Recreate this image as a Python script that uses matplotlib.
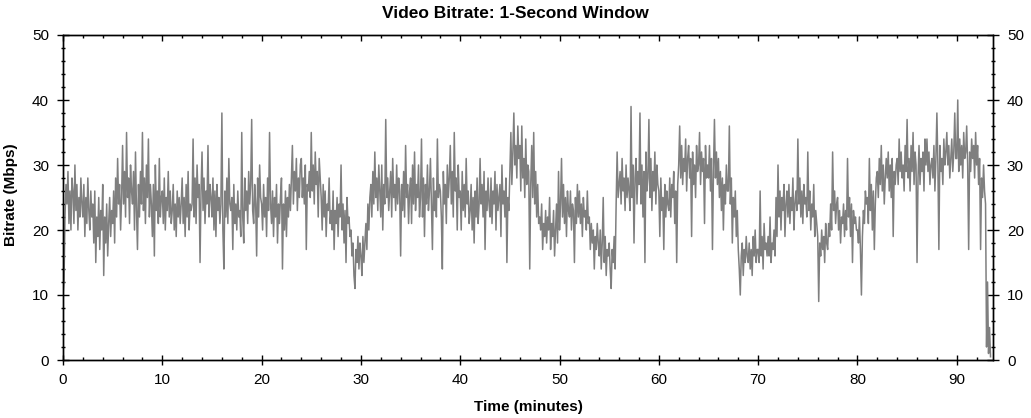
import numpy as np
import matplotlib
matplotlib.use('Agg')
import matplotlib.pyplot as plt
from matplotlib.ticker import MultipleLocator

plt.rcParams['font.family'] = ['Liberation Sans', 'DejaVu Sans']

title_text = "Video Bitrate: 1-Second Window"
x_label = "Time (minutes)"
y_label = "Bitrate (Mbps)"

sample_step_min = 0.1   # spacing between samples (minutes)

# bitrate (Mbps), 10 samples per minute
bitrate_mbps = [
    10, 12, 22, 27, 24, 29, 21, 26, 20, 28,   # 0
    26, 21, 30, 23, 27, 20, 25, 22, 28, 24,   # 1
    22, 27, 19, 25, 21, 28, 23, 20, 26, 22,   # 2
    24, 18, 26, 15, 22, 19, 25, 17, 23, 20,   # 3
    27, 13, 22, 18, 24, 16, 21, 25, 19, 23,   # 4
    21, 26, 18, 28, 22, 31, 24, 27, 20, 25,   # 5
    33, 24, 29, 22, 35, 25, 28, 21, 30, 26,   # 6
    24, 29, 20, 32, 23, 17, 27, 22, 29, 24,   # 7
    35, 23, 28, 21, 30, 25, 34, 22, 27, 24,   # 8
    19, 27, 16, 30, 23, 26, 21, 31, 22, 25,   # 9
    26, 21, 28, 20, 25, 23, 29, 22, 26, 21,   # 10
    23, 27, 20, 24, 19, 26, 22, 25, 21, 24,   # 11
    28, 21, 25, 19, 27, 22, 29, 20, 24, 23,   # 12
    24, 34, 22, 28, 21, 30, 25, 27, 15, 26,   # 13
    32, 23, 28, 21, 26, 24, 33, 22, 27, 25,   # 14
    22, 28, 20, 26, 19, 27, 23, 25, 21, 24,   # 15
    38, 20, 14, 26, 22, 28, 21, 31, 24, 23,   # 16
    25, 17, 27, 21, 24, 20, 26, 22, 23, 19,   # 17
    35, 22, 18, 28, 23, 26, 21, 29, 24, 27,   # 18
    37, 23, 21, 27, 24, 16, 28, 22, 30, 25,   # 19
    24, 20, 27, 22, 25, 19, 28, 23, 35, 24,   # 20
    21, 26, 19, 25, 22, 27, 18, 24, 21, 25,   # 21
    28, 14, 24, 20, 26, 19, 25, 22, 27, 23,   # 22
    28, 33, 24, 29, 26, 31, 23, 28, 25, 30,   # 23
    31, 25, 28, 24, 30, 17, 27, 26, 29, 25,   # 24
    35, 26, 30, 24, 32, 27, 29, 22, 31, 28,   # 25
    25, 20, 27, 22, 26, 19, 24, 23, 28, 21,   # 26
    23, 20, 26, 17, 23, 21, 25, 19, 24, 22,   # 27
    30, 20, 24, 18, 23, 15, 25, 21, 22, 19,   # 28
    20, 16, 18, 13, 11, 17, 15, 19, 14, 18,   # 29
    16, 13, 19, 15, 18, 21, 17, 24, 20, 25,   # 30
    27, 22, 29, 24, 32, 25, 28, 23, 30, 26,   # 31
    22, 30, 20, 27, 24, 37, 25, 28, 23, 26,   # 32
    29, 22, 31, 25, 27, 23, 30, 24, 28, 26,   # 33
    16, 27, 23, 29, 22, 33, 25, 27, 21, 26,   # 34
    28, 21, 30, 24, 32, 23, 27, 25, 30, 22,   # 35
    25, 34, 22, 28, 19, 27, 24, 30, 23, 26,   # 36
    31, 24, 17, 28, 23, 26, 22, 34, 25, 27,   # 37
    26, 22, 14, 29, 24, 27, 21, 30, 25, 28,   # 38
    33, 24, 29, 22, 35, 26, 28, 20, 30, 25,   # 39
    26, 20, 29, 23, 27, 22, 31, 24, 26, 21,   # 40
    23, 27, 20, 25, 18, 26, 22, 28, 21, 24,   # 41
    31, 24, 27, 22, 29, 17, 26, 23, 28, 24,   # 42
    22, 28, 21, 26, 24, 29, 20, 27, 23, 25,   # 43
    27, 19, 30, 24, 26, 22, 28, 15, 25, 23,   # 44
    29, 35, 27, 32, 38, 30, 33, 28, 36, 31,   # 45
    33, 26, 36, 28, 31, 25, 34, 27, 30, 29,   # 46
    14, 27, 33, 25, 35, 24, 29, 22, 27, 21,   # 47
    22, 20, 24, 17, 21, 19, 23, 18, 22, 20,   # 48
    25, 17, 21, 19, 23, 16, 20, 24, 18, 29,   # 49
    20, 24, 31, 22, 27, 21, 25, 19, 26, 23,   # 50
    22, 26, 20, 24, 23, 15, 25, 21, 27, 22,   # 51
    26, 21, 24, 19, 25, 22, 23, 20, 26, 21,   # 52
    22, 17, 21, 18, 20, 14, 19, 17, 21, 18,   # 53
    16, 20, 14, 18, 25, 15, 19, 13, 17, 16,   # 54
    18, 14, 11, 17, 15, 19, 14, 24, 32, 25,   # 55
    27, 29, 24, 31, 26, 28, 23, 30, 25, 28,   # 56
    26, 23, 39, 25, 30, 18, 28, 31, 24, 29,   # 57
    27, 38, 24, 30, 22, 29, 15, 32, 26, 28,   # 58
    37, 25, 31, 23, 29, 26, 32, 24, 30, 27,   # 59
    26, 19, 28, 23, 25, 17, 27, 22, 26, 24,   # 60
    23, 28, 22, 27, 25, 29, 21, 26, 15, 27,   # 61
    30, 36, 28, 33, 27, 31, 29, 34, 26, 31,   # 62
    33, 28, 31, 19, 32, 27, 30, 25, 33, 29,   # 63
    30, 35, 27, 32, 29, 31, 21, 33, 28, 30,   # 64
    28, 33, 26, 31, 17, 29, 37, 28, 32, 27,   # 65
    31, 25, 29, 23, 28, 20, 27, 24, 30, 26,   # 66
    26, 36, 24, 28, 18, 25, 22, 26, 19, 23,   # 67
    17, 14, 10, 16, 18, 13, 17, 15, 19, 16,   # 68
    15, 18, 14, 17, 13, 19, 16, 20, 15, 17,   # 69
    17, 15, 26, 16, 19, 14, 21, 17, 18, 16,   # 70
    19, 16, 22, 15, 18, 17, 20, 16, 25, 19,   # 71
    30, 22, 26, 20, 25, 23, 27, 19, 24, 26,   # 72
    22, 27, 21, 25, 23, 28, 20, 24, 26, 23,   # 73
    34, 24, 28, 22, 26, 21, 27, 24, 25, 22,   # 74
    32, 23, 26, 20, 24, 22, 27, 19, 23, 21,   # 75
    19, 9, 18, 16, 20, 17, 19, 15, 21, 18,    # 76
    17, 21, 19, 24, 20, 32, 23, 26, 21, 24,   # 77
    25, 20, 23, 18, 22, 21, 24, 19, 23, 20,   # 78
    31, 22, 25, 19, 24, 15, 23, 21, 22, 20,   # 79
    20, 18, 22, 17, 10, 19, 23, 21, 26, 24,   # 80
    25, 21, 31, 23, 27, 20, 26, 17, 24, 28,   # 81
    29, 25, 31, 27, 33, 26, 30, 24, 28, 31,   # 82
    28, 32, 26, 30, 25, 31, 19, 29, 27, 30,   # 83
    31, 27, 34, 29, 32, 28, 30, 26, 33, 29,   # 84
    37, 28, 31, 26, 33, 29, 35, 27, 32, 30,   # 85
    15, 28, 33, 27, 31, 29, 32, 26, 34, 30,   # 86
    34, 29, 32, 27, 30, 31, 28, 33, 26, 31,   # 87
    38, 30, 17, 33, 29, 31, 27, 34, 30, 32,   # 88
    35, 30, 33, 28, 31, 34, 29, 32, 38, 31,   # 89
    31, 40, 29, 34, 30, 33, 28, 35, 31, 32,   # 90
    36, 30, 17, 32, 29, 34, 31, 33, 28, 35,   # 91
    30, 33, 27, 31, 17, 28, 25, 30, 26, 24,   # 92
    2, 12, 1, 5, 0.5,                          # 93
]

x_major_ticks = [0, 10, 20, 30, 40, 50, 60, 70, 80, 90]
y_major_ticks = [0, 10, 20, 30, 40, 50]

time_min = np.arange(len(bitrate_mbps)) * sample_step_min

W, H = 1031, 418
fig = plt.figure(figsize=(W / 100, H / 100), dpi=100)
ax = fig.add_axes([63 / W, 1 - 360 / H, (993 - 63) / W, (360 - 35) / H])

ax.plot(time_min, bitrate_mbps, color='#7f7f7f', lw=1.1, antialiased=True)

ax.set_xlim(0, 93.65)
ax.set_ylim(0, 50)
ax.set_xticks(x_major_ticks)
ax.set_yticks(y_major_ticks)
ax.xaxis.set_minor_locator(MultipleLocator(2))
ax.yaxis.set_minor_locator(MultipleLocator(2))

for s in ax.spines.values():
    s.set_linewidth(1.0)
    s.set_color('black')

ax.tick_params(axis='y', which='major', direction='inout', length=8, width=1,
               left=True, right=True, labelleft=True, labelright=True,
               labelsize=11, pad=6)
ax.tick_params(axis='y', which='minor', direction='inout', length=3.5, width=1,
               left=True, right=True)
ax.tick_params(axis='x', which='major', direction='inout', length=7, width=1,
               bottom=True, top=False, labelsize=11, pad=6)
ax.tick_params(axis='x', which='minor', direction='in', length=2.5, width=1,
               bottom=True, top=False)

ax2 = ax.twiny()
ax2.set_xlim(ax.get_xlim())
ax2.set_xticks(x_major_ticks)
ax2.xaxis.set_minor_locator(MultipleLocator(2))
ax2.tick_params(axis='x', which='major', direction='in', length=4.5, width=1,
                top=True, bottom=False, labeltop=False)
ax2.tick_params(axis='x', which='minor', direction='in', length=2.5, width=1,
                top=True, bottom=False)
for s in ax2.spines.values():
    s.set_linewidth(1.0)

fig.text(515 / W, 1 - 13 / H, title_text, ha='center', va='center',
         fontsize=12.5, fontweight='bold')
fig.text(528 / W, 1 - 407 / H, x_label, ha='center', va='center',
         fontsize=11, fontweight='bold')
fig.text(11 / W, 1 - 195 / H, y_label, ha='center', va='center',
         rotation=90, fontsize=11, fontweight='bold')

fig.savefig('out.png', dpi=100)
